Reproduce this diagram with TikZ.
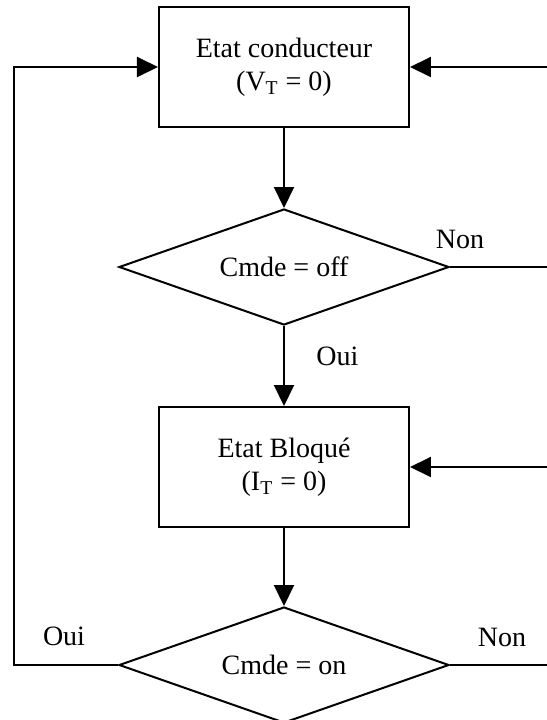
\documentclass[tikz,border=0pt]{standalone}
\usepackage{fontspec}
\setmainfont{Liberation Serif}
\usetikzlibrary{shapes.geometric, arrows.meta, positioning}

\begin{document}
\begin{tikzpicture}[node distance=40pt,
block/.style={rectangle, draw, line width=1pt, minimum width=125pt,
minimum height=60pt, align=center, font=\fontsize{14}{16.5}\selectfont},
decision/.style={diamond, aspect=2.85, draw, line width=1pt, minimum width=165pt,
minimum height=58pt, inner sep=0pt, font=\fontsize{14}{16.5}\selectfont},
lbl/.style={inner sep=0pt, font=\fontsize{14}{16.5}\selectfont},
arrow/.style={-{Triangle[length=10.5pt, width=10pt]}, line width=1pt},
line/.style={line width=1pt}]
\useasboundingbox (0,0) rectangle (273.5pt,-360pt);
\node[block] (cond) at (142pt,-33.5pt)
    {Etat conducteur\\(V\textsubscript{T} = 0)};
\node[decision, below=of cond] (d1) {Cmde = off};
\node[block, below=of d1] (bloq)
    {Etat Bloqué\\(I\textsubscript{T} = 0)};
\node[decision, below=39pt of bloq] (d2) {Cmde = on};
% retours
\coordinate (lft) at (7pt,-33.5pt);
\coordinate (rgt) at (273.5pt,0);
\coordinate (r1) at (cond.east -| rgt);
\coordinate (r2) at (d1.east -| rgt);
\coordinate (r3) at (bloq.east -| rgt);
\coordinate (r4) at (d2.east -| rgt);
\draw[arrow] (cond) -- (d1);
\draw[arrow] (d1) -- (bloq);
\draw[arrow] (bloq) -- (d2);
\draw[arrow] (d2.west) -| (lft) -- (cond.west);
\draw[arrow] (r1) -- (cond.east);
\draw[line] (d1.east) -- (r2);
\draw[arrow] (r3) -- (bloq.east);
\draw[line] (d2.east) -- (r4);
% labels
\node[lbl, anchor=base] (non1) at ([xshift=5pt, yshift=9.5pt]d1.east) {Non};
\node[lbl, anchor=base west] (oui1) at ([xshift=16pt, yshift=-19.5pt]d1.south) {Oui};
\node[lbl, anchor=base] (non2) at ([xshift=26pt, yshift=9.5pt]d2.east) {Non};
\node[lbl, anchor=base] (oui2) at ([xshift=-27pt, yshift=10pt]d2.west) {Oui};
\end{tikzpicture}
\end{document}
